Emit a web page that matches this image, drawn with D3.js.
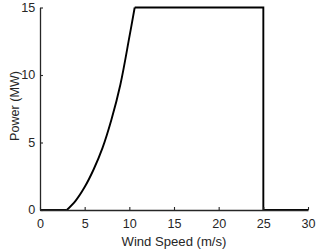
<html>
<head>
  <script src="https://d3js.org/d3.v7.min.js"></script>
  <style>
  body{ margin:0; background:#fff; }
  svg{ display:block; font-family:"Liberation Sans", Arial, sans-serif; }
  </style>
</head>
<body>
  <script type="text/javascript">
    // power curve
    var windSpeed=[0, 3, 4, 5, 6, 7, 8, 9, 10, 10.6, 25, 25, 30];
    var power    =[0, 0, 0.7, 1.7, 3.0, 4.6, 6.7, 9.3, 12.8, 15, 15, 0, 0];
    var xTicks=[0, 5, 10, 15, 20, 25, 30];
    var yTicks=[0, 5, 10, 15];

    var width=320, height=252;
    var padL=40, padR=308, padT=7.5, padB=210;
    var axisColor="#262626";
    var stretch=1.05;

    var svg=d3.select("body").append("svg")
              .attr("width",width)
              .attr("height",height);

    var x=d3.scaleLinear().domain([0,30]).range([padL,padR]);
    var y=d3.scaleLinear().domain([0,15]).range([padB,padT]);

    var data=windSpeed.map(function(d,i){ return {v:d, p:power[i]}; });

    var line=d3.line().x(function(d){ return x(d.v) }).y(function(d){ return y(d.p) });
    var smooth=d3.line().x(function(d){ return x(d.v) }).y(function(d){ return y(d.p) })
                 .curve(d3.curveCatmullRom.alpha(0.5));

    // flat start, smooth rise, then straight rated part and cut-out
    var parts=[
      line(data.filter(function(d){ return d.v<=3 })),
      smooth(data.filter(function(d){ return d.v>=3 && d.v<=10.6 })),
      line(data.filter(function(d){ return d.v>=10.6 }))
    ];
    svg.selectAll("path.curve")
       .data(parts)
       .enter()
       .append("path")
       .attr("class","curve")
       .attr("d",function(d){ return d })
       .attr("fill","none")
       .attr("stroke","#000")
       .attr("stroke-width",1.9);

    // axes, ticks pointing inward
    var xAxis=svg.append("g")
       .attr("transform","translate(0,"+padB+")")
       .call(d3.axisBottom(x).tickValues(xTicks).tickSizeInner(-3).tickSizeOuter(0).tickPadding(9.5));
    var yAxis=svg.append("g")
       .attr("transform","translate("+padL+",0)")
       .call(d3.axisLeft(y).tickValues(yTicks).tickSizeInner(-3).tickSizeOuter(0).tickPadding(4.5));

    [xAxis,yAxis].forEach(function(g){
      g.select(".domain").attr("stroke",axisColor).attr("stroke-width",1.3);
      g.selectAll(".tick line").attr("stroke",axisColor).attr("stroke-width",1.1);
      g.selectAll("text").attr("fill",axisColor).style("font-size","12px")
       .style("font-family","Liberation Sans, Arial, sans-serif")
       .attr("transform","scale("+stretch+",1)");
    });

    var cx=(padL+padR)/2;
    svg.append("text")
       .attr("x",cx)
       .attr("y",246)
       .attr("text-anchor","middle")
       .attr("fill",axisColor)
       .style("font-size","12.5px")
       .attr("transform","translate("+cx+",0) scale("+stretch+",1) translate("+(-cx)+",0)")
       .text("Wind Speed (m/s)");

    svg.append("text")
       .attr("transform","translate(19,106) rotate(-90)")
       .attr("text-anchor","middle")
       .attr("fill",axisColor)
       .style("font-size","12.6px")
       .text("Power (MW)");
  </script>
</body>
</html>
